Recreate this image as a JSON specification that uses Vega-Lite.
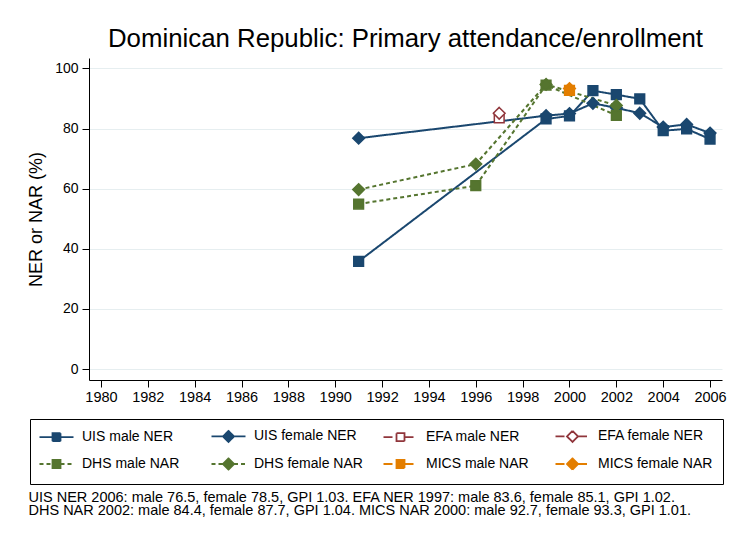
{
  "$schema": "https://vega.github.io/schema/vega-lite/v6.json",
  "width": 633,
  "height": 322,
  "autosize": {"type": "none"},
  "padding": {"left": 89, "top": 58, "right": 8, "bottom": 156},
  "background": "white",
  "title": {
    "text": "Dominican Republic: Primary attendance/enrollment",
    "font": "Liberation Sans",
    "fontSize": 25.8,
    "fontWeight": "normal",
    "color": "black",
    "anchor": "middle",
    "frame": "group",
    "baseline": "alphabetic",
    "offset": -15
  },
  "data": {
    "values": [
      {"series": "UIS male NER", "sex": "male", "year": 1991, "value": 35.8},
      {"series": "UIS male NER", "sex": "male", "year": 1999, "value": 83.2},
      {"series": "UIS male NER", "sex": "male", "year": 2000, "value": 84.2},
      {"series": "UIS male NER", "sex": "male", "year": 2001, "value": 92.6},
      {"series": "UIS male NER", "sex": "male", "year": 2002, "value": 91.3},
      {"series": "UIS male NER", "sex": "male", "year": 2003, "value": 89.9},
      {"series": "UIS male NER", "sex": "male", "year": 2004, "value": 79.3},
      {"series": "UIS male NER", "sex": "male", "year": 2005, "value": 79.9},
      {"series": "UIS male NER", "sex": "male", "year": 2006, "value": 76.5},
      {"series": "UIS female NER", "sex": "female", "year": 1991, "value": 76.8},
      {"series": "UIS female NER", "sex": "female", "year": 1999, "value": 84.3},
      {"series": "UIS female NER", "sex": "female", "year": 2000, "value": 85.0},
      {"series": "UIS female NER", "sex": "female", "year": 2001, "value": 88.4},
      {"series": "UIS female NER", "sex": "female", "year": 2002, "value": 86.9},
      {"series": "UIS female NER", "sex": "female", "year": 2003, "value": 85.1},
      {"series": "UIS female NER", "sex": "female", "year": 2004, "value": 80.5},
      {"series": "UIS female NER", "sex": "female", "year": 2005, "value": 81.4},
      {"series": "UIS female NER", "sex": "female", "year": 2006, "value": 78.5},
      {"series": "EFA male NER", "sex": "male", "year": 1997, "value": 83.6},
      {"series": "EFA female NER", "sex": "female", "year": 1997, "value": 85.1},
      {"series": "DHS male NAR", "sex": "male", "year": 1991, "value": 54.9},
      {"series": "DHS male NAR", "sex": "male", "year": 1996, "value": 61.0},
      {"series": "DHS male NAR", "sex": "male", "year": 1999, "value": 94.5},
      {"series": "DHS male NAR", "sex": "male", "year": 2002, "value": 84.4},
      {"series": "DHS female NAR", "sex": "female", "year": 1991, "value": 59.7},
      {"series": "DHS female NAR", "sex": "female", "year": 1996, "value": 68.2},
      {"series": "DHS female NAR", "sex": "female", "year": 1999, "value": 94.7},
      {"series": "DHS female NAR", "sex": "female", "year": 2002, "value": 87.7},
      {"series": "MICS male NAR", "sex": "male", "year": 2000, "value": 92.7},
      {"series": "MICS female NAR", "sex": "female", "year": 2000, "value": 93.3}
    ]
  },
  "encoding": {
    "x": {
      "field": "year",
      "type": "quantitative",
      "scale": {"domain": [1979.49, 2006.51], "nice": false, "zero": false},
      "axis": {
        "values": [1980, 1982, 1984, 1986, 1988, 1990, 1992, 1994, 1996, 1998, 2000, 2002, 2004, 2006],
        "format": "d",
        "grid": false,
        "tickSize": 7,
        "labelPadding": 3,
        "labelFontSize": 14.5,
        "labelFont": "Liberation Sans",
        "labelColor": "black",
        "domainColor": "black",
        "tickColor": "black",
        "labelFlush": false,
        "title": [
          "UIS NER 2006: male 76.5, female 78.5, GPI 1.03. EFA NER 1997: male 83.6, female 85.1, GPI 1.02.",
          "DHS NAR 2002: male 84.4, female 87.7, GPI 1.04. MICS NAR 2000: male 92.7, female 93.3, GPI 1.01."
        ],
        "titleFont": "Liberation Sans",
        "titleFontSize": 14.5,
        "titleFontWeight": "normal",
        "titleColor": "black",
        "titleAlign": "left",
        "titleAnchor": "start",
        "titleBaseline": "alphabetic",
        "titleX": -61,
        "titleY": 121,
        "titleLineHeight": 13
      }
    },
    "y": {
      "field": "value",
      "type": "quantitative",
      "scale": {"domain": [-3.66, 103.49], "nice": false, "zero": false},
      "axis": {
        "values": [0, 20, 40, 60, 80, 100],
        "grid": true,
        "gridColor": "#e6eef0",
        "gridWidth": 1,
        "tickSize": 7,
        "labelPadding": 4,
        "labelFontSize": 14,
        "labelFont": "Liberation Sans",
        "labelColor": "black",
        "domainColor": "black",
        "tickColor": "black",
        "labelFlush": false,
        "title": "NER or NAR (%)",
        "titleFont": "Liberation Sans",
        "titleFontSize": 18,
        "titleFontWeight": "normal",
        "titleColor": "black",
        "titleAngle": -90,
        "titleAlign": "center",
        "titleBaseline": "alphabetic",
        "titleX": -48,
        "titleY": 161
      }
    }
  },
  "layer": [
    {
      "mark": {"type": "line", "strokeWidth": 2},
      "encoding": {
        "detail": {"field": "series"},
        "stroke": {
          "field": "series",
          "type": "nominal",
          "scale": {
            "domain": ["UIS male NER", "UIS female NER", "EFA male NER", "EFA female NER", "DHS male NAR", "DHS female NAR", "MICS male NAR", "MICS female NAR"],
            "range": ["#1a476f", "#1a476f", "#90353b", "#90353b", "#55752f", "#55752f", "#e37e00", "#e37e00"]
          },
          "legend": {
            "title": null,
            "orient": "none",
            "legendX": -59,
            "legendY": 361,
            "columns": 4,
            "direction": "horizontal",
            "gridAlign": "all",
            "strokeColor": "black",
            "fillColor": "white",
            "padding": 10,
            "symbolSize": 100,
            "symbolStrokeWidth": 1.8,
            "symbolOffset": 9.5,
            "labelOffset": 18.5,
            "columnPadding": 10,
            "rowPadding": 8,
            "labelFont": "Liberation Sans",
            "labelFontSize": 14,
            "labelColor": "black",
            "labelLimit": 300,
            "encode": {
              "symbols": {
                "update": {
                  "shape": {"signal": "test(/female/, datum.value) ? 'M-3.4,0H-1.1M1.1,0H3.4M0,-1.1L1.1,0L0,1.1L-1.1,0ZM0,-1.1L0.55,-0.55M0.55,-0.55L1.1,0M1.1,0L0.55,0.55M0.55,0.55L0,1.1M0,1.1L-0.55,0.55M-0.55,0.55L-1.1,0M-1.1,0L-0.55,-0.55M-0.55,-0.55L0,-1.1' : 'M-3.4,0H-0.8M0.8,0H3.4M-0.8,-0.8H0.8V0.8H-0.8ZM-0.8,-0.8H0M0,-0.8H0.8M0.8,-0.8V0M0.8,0V0.8M0.8,0.8H0M0,0.8H-0.8M-0.8,0.8V0M-0.8,0V-0.8'"},
                  "strokeDash": {"signal": "test(/DHS/, datum.value) ? [4,3] : test(/EFA/, datum.value) ? [9,4,3,4] : test(/MICS/, datum.value) ? [9,4,1,4] : [1,0]"}
                }
              }
            }
          }
        },
        "strokeDash": {
          "field": "series",
          "type": "nominal",
          "scale": {
            "domain": ["UIS male NER", "UIS female NER", "EFA male NER", "EFA female NER", "DHS male NAR", "DHS female NAR", "MICS male NAR", "MICS female NAR"],
            "range": [[1, 0], [1, 0], [9, 4, 3, 4], [9, 4, 3, 4], [4, 3], [4, 3], [9, 4, 1, 4], [9, 4, 1, 4]]
          }
        }
      }
    },
    {
      "mark": {"type": "point", "size": 95, "strokeWidth": 1.5, "opacity": 1},
      "encoding": {
        "shape": {
          "field": "sex",
          "type": "nominal",
          "scale": {
            "domain": ["male", "female"],
            "range": ["square", "M0,-1.2L1.2,0L0,1.2L-1.2,0Z"]
          },
          "legend": null
        },
        "fill": {
          "field": "series",
          "type": "nominal",
          "scale": {
            "domain": ["UIS male NER", "UIS female NER", "EFA male NER", "EFA female NER", "DHS male NAR", "DHS female NAR", "MICS male NAR", "MICS female NAR"],
            "range": ["#1a476f", "#1a476f", "#ffffff", "#ffffff", "#55752f", "#55752f", "#e37e00", "#e37e00"]
          }
        },
        "stroke": {
          "field": "series",
          "type": "nominal"
        }
      }
    }
  ],
  "config": {
    "view": {"stroke": null},
    "axis": {"domainWidth": 1, "tickWidth": 1}
  }
}
